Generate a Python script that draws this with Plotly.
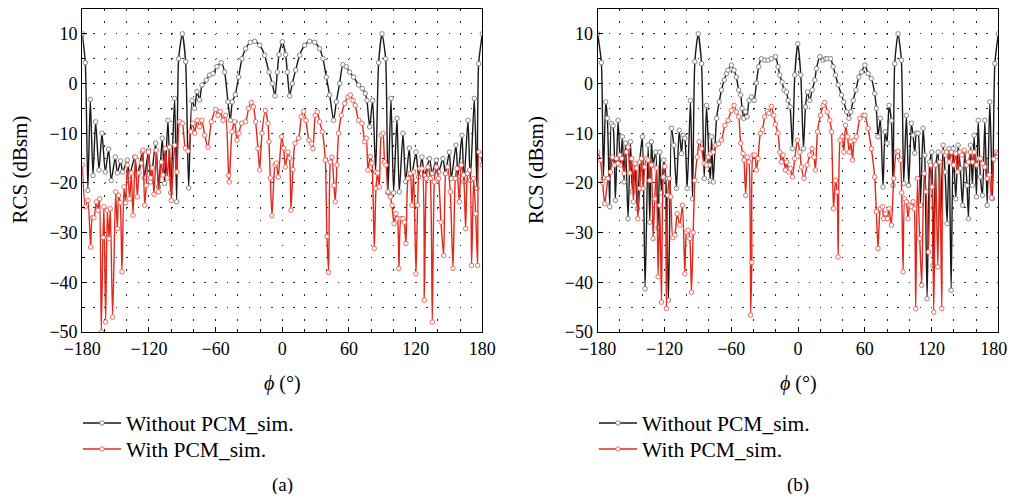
import plotly.graph_objects as go

# ---- panel (a): vertices (phi in deg, RCS in dBsm) ----
phi_a_without = [-180, -177.3, -175, -172.8, -170.4, -168, -165, -162.3, -159.3, -156.3, -154, -150.3, -148.5,
                 -145.5, -143.7, -139.5, -137.4, -132.9, -130.5, -126, -124.2, -120.3, -118.5, -114, -111.3, -108,
                 -105.9, -102.9, -100.5, -96.9, -95.1, -93.3, -90, -87, -84.3, -81.3, -78.9, -76.8, -74.4, -72.3,
                 -68.4, -65.4, -62.4, -58.8, -54.9, -51.9, -48.9, -46.8, -45, -42.3, -39.3, -36.3, -33, -28.8,
                 -24.9, -20.4, -15.9, -12, -9, -6.6, -4.5, -3, 0, 3, 4.5, 6.6, 9, 12, 15.6, 20.1, 24.6, 29.1, 33.6,
                 36.6, 39.6, 42.6, 46.2, 48.6, 51.6, 54.6, 57.6, 60.6, 64.2, 68.7, 72, 74.7, 76.2, 78.6, 81.3, 84,
                 86.7, 89.7, 93, 95.1, 97.8, 100.2, 103.2, 105.3, 108.6, 111, 114.3, 116.1, 120.3, 122.7, 125.7,
                 127.8, 132.6, 134.7, 138.6, 140.7, 144.6, 146.7, 150.3, 152.1, 156.3, 158.1, 161.7, 163.5, 167.1,
                 169.2, 172.8, 175.2, 176.7, 180]
rcs_a_without = [10, 4.2, -21.5, -3.2, -18.5, -7.7, -17.4, -10, -17.8, -13.2, -19.5, -14.8, -18, -15.6, -17.8,
                 -15.4, -18.5, -14.8, -18.5, -13.8, -19, -13.4, -19.8, -12, -20.8, -11, -20.1, -7.4, -22, -3, -23.8,
                 5, 10, 4.4, -21, -3.4, -5, -1.6, -3.3, -0.3, 0.7, 1.7, 2, 3.4, 4.2, 2.3, -3.7, -7.4, -3.7, -2.2,
                 1.3, 5, 7, 8.3, 8.5, 7.7, 5.7, 2.3, 0, -2.5, 2.3, 5.8, 8.4, 5.8, 2.3, -2.5, 0, 2.7, 5.7, 7.7, 8.5,
                 8.3, 7, 5, 1.3, -2.3, -7.4, -3.7, 0, 3.8, 3.4, 2.3, 1.3, -0.3, -1, -2, -3.4, -8.7, -3.4, -17.8, 4.2,
                 10, 5, -22, -3, -22, -7, -21.8, -10, -19.7, -13, -19, -13.8, -18.8, -14.8, -18.5, -15.1, -18.1,
                 -15.4, -17.8, -15.1, -18.1, -13.8, -19.1, -12.4, -18.8, -10.4, -19.8, -7.4, -19.5, -3, -21.1, 4, 10]

phi_a_with = [-180, -177.3, -175, -172.5, -171, -169.5, -167.4, -165.9, -164.4, -162.9, -161.4, -160.5, -159,
              -157.5, -156, -154.8, -152.7, -150, -148.5, -147.3, -145.8, -144.3, -142.5, -141, -139.5, -137.4,
              -135.9, -134.4, -132.3, -130.5, -129, -127, -125.4, -123.9, -122.4, -120.3, -118.5, -117, -115.5,
              -113.4, -111.3, -108.9, -107.4, -105.3, -103.5, -101.4, -99.9, -96.9, -94.8, -92.4, -90, -87.3,
              -84.9, -82.5, -80.4, -78.9, -76.5, -74.4, -72.3, -69.9, -66.9, -63.9, -60, -57.9, -55.8, -53.4, -51,
              -48.3, -47.7, -45.3, -42.9, -40.8, -39, -36.6, -33, -30.3, -27.9, -26, -24, -21.9, -20.4, -18.3,
              -15.3, -12.9, -12, -10.8, -9.3, -6.6, -5.4, -3.6, -0.6, 1.2, 2.7, 5.1, 6.6, 7.8, 9.6, 11.4, 14.7,
              17.1, 19.2, 21.3, 24, 26.4, 27.6, 29.7, 31.5, 33.6, 36, 38.7, 40.2, 41.7, 43.2, 44.7, 46.5, 47.7,
              49.2, 50.7, 53.1, 56.1, 59.1, 61.2, 63.6, 65.7, 68.7, 71.7, 74.1, 75.6, 77.1, 79.2, 80.7, 82.8, 84.3,
              85.8, 87.3, 89.1, 90.6, 92.1, 93.3, 95.1, 97.2, 98.7, 100.5, 102.3, 103.8, 105, 106.8, 108.6, 109.8,
              111.3, 113.1, 115.2, 116.7, 118.2, 120.3, 121.8, 123.6, 125.7, 127.8, 129.6, 131.1, 133.2, 135,
              136.8, 138.6, 140.7, 142.8, 145.2, 147, 148.8, 151.2, 153.6, 155.7, 157.2, 159.3, 161.1, 163.2, 165,
              166.8, 168.6, 170.4, 172.2, 174, 175.8, 177, 178.5, 180]
rcs_a_with = [-16.4, -24.8, -23.5, -32.9, -27, -27, -23.8, -25.5, -23.2, -50, -31, -24.8, -48, -25.5, -31.2, -25.2,
              -47, -21.8, -29.2, -22.5, -24, -37.9, -20.8, -24, -16.4, -23.2, -18, -26.5, -14.8, -22.8, -18, -16,
              -13.4, -24.5, -20.5, -13.8, -19, -17, -22.3, -13.4, -21.8, -15.8, -18.4, -13.1, -19, -12.8, -23.5,
              -12.4, -17.8, -7.7, -8, -13, -13.6, -9.7, -8, -10, -7.4, -8.7, -7.4, -10.4, -12.8, -7.7, -5.2, -6.4,
              -5.6, -7.4, -6.4, -18.5, -19.8, -9.7, -7.7, -11.4, -10, -8, -7.7, -5, -3.8, -4.7, -7.7, -13.1, -17.4,
              -10, -5.4, -8, -11.7, -19, -26.6, -16.4, -16, -18.8, -10.7, -13, -16.8, -13.8, -15, -25.5, -17.3, -12,
              -11, -6.7, -5.6, -7.4, -11.4, -12.1, -13.1, -6.4, -5.7, -7.7, -9.7, -15.4, -30.8, -38, -15.8, -14.8,
              -20.5, -23.8, -16.4, -10, -6.4, -4, -2.7, -2.3, -3.4, -4.4, -7.4, -8, -11.7, -11, -17.4, -14.7, -16,
              -33.2, -21.1, -18, -20.8, -10.4, -10, -15.8, -16.4, -21.8, -22.8, -24.5, -28.2, -26.2, -27.2, -37.2,
              -27.2, -27.2, -27.9, -32.2, -19.1, -18.1, -24.5, -17.8, -38.3, -24.5, -17.1, -17.1, -43.6, -19.1,
              -16.8, -19.1, -48, -19.8, -16.8, -19.1, -27.9, -34.6, -18.1, -16.8, -21.8, -37.2, -19.1, -17.1, -23.8,
              -16.4, -18.4, -29.2, -18.1, -17.4, -36.6, -19.1, -26.2, -36.6, -13.8, -14.4, -16.4]

# ---- panel (b) ----
phi_b_without = [-180, -176.7, -174.9, -172.8, -171.3, -169.2, -167.7, -166.2, -164.1, -161.7, -159.6, -157.8,
                 -156.3, -155, -152.7, -150.6, -148.8, -146.7, -144.3, -142.2, -139.8, -137.4, -134.7, -133.2,
                 -131.7, -130.2, -127.8, -125.7, -124.2, -122.7, -120.6, -118.8, -116.4, -113.7, -111.6, -109.2,
                 -106.8, -104.7, -103.2, -101.7, -99.6, -96.6, -94.8, -92.7, -89.7, -86.7, -84.3, -82.2, -79.8,
                 -78.7, -77.7, -76.2, -73.2, -70.8, -68.7, -66.3, -64.2, -62.9, -59.9, -57.5, -55.4, -53.3, -51.5,
                 -50.3, -48.8, -47.3, -45.8, -44, -41.9, -39.5, -37.4, -35.3, -32.9, -29.9, -26.9, -23.9, -20.3,
                 -17.9, -16.4, -14.3, -12.5, -10.4, -8.9, -7.1, -5, -2.9, -0.2, 2.5, 4.9, 6.7, 8.5, 10.6, 12.7, 15.1,
                 16.6, 19.6, 22.6, 24.6, 26.2, 29.2, 31.6, 33.7, 36.1, 39.1, 41.2, 43.6, 45.7, 47.5, 49.6, 52, 54.7,
                 57.1, 60.1, 62.9, 65.9, 68.9, 70.4, 71.9, 74, 76.4, 78.2, 80, 81.8, 83.9, 85.4, 86.9, 89.9, 92.9, 95,
                 97.4, 99.5, 101.9, 103.4, 104.9, 106.4, 107.9, 110, 112.4, 113.9, 116, 118.4, 120.2, 121.4, 123.8,
                 125.9, 128, 130.4, 132.2, 134, 135.8, 137.6, 139.4, 141.8, 143.9, 145.9, 147.8, 149.9, 151.9, 153.2,
                 155, 156.8, 158.3, 160.4, 161.9, 163.9, 165.8, 167.9, 170, 172.4, 174.8, 176.9, 180]
rcs_b_without = [10, 4.2, -19, -3.7, -7, -24.8, -8, -8.5, -23.5, -7.4, -16.4, -10.7, -19.8, -12, -27.2, -11.7,
                 -21.8, -16.4, -25.2, -15.8, -10.7, -41.3, -12.4, -27.9, -11.7, -16.4, -13.8, -29, -13.8, -22, -15.4,
                 -19.1, -43.6, -9, -12.4, -21.1, -9.4, -14.1, -10.4, -11, -21.1, -3.4, -23.2, 4.4, 10, 4, -19.1, -4.4,
                 -16.4, -19.5, -10.7, -19.8, -7, -3.7, -1.3, 0.7, 2, 2.7, 3.7, 2.7, 1.3, -1.3, -2.3, -5, -7, -5.7,
                 -6.7, -3.4, -2.7, -3.4, 0.1, 3.4, 5, 4.7, 4.7, 5, 5.4, 3.4, 1.7, 0.3, -1.3, -1.7, -3.4, -4.7, -13.1,
                 1.7, 8, 1.7, -13.1, -4.7, -1.7, -3.4, -1.3, 0.7, 3, 5.4, 4.7, 5, 5, 5, 3.4, 1.7, -0.3, -2.3, -3.7,
                 -5.7, -7, -5.7, -3.4, -1.3, 1.3, 2.3, 3.7, 2, 1, -2, -5, -10.7, -7, -20.8, -9.7, -12, -4.4, -7.5,
                 -20.5, 4, 10, 4.7, -20.1, -6.4, -20.5, -8, -10.4, -14, -10, -10, -24.5, -9, -14.4, -43.3, -15.8,
                 -13.8, -36.6, -16.4, -13.8, -27.9, -12.4, -17.8, -28.2, -13.1, -41.6, -13.1, -23.2, -12.4, -17.1,
                 -24.5, -13.8, -20.5, -27.2, -12.4, -20.5, -10.4, -22.8, -7.4, -18.8, -22.5, -7.4, -24.5, -3.7, -23.2,
                 4, 10]

phi_b_with = [-180, -177.6, -175.5, -173.7, -170.7, -168.6, -166.8, -165, -163.2, -161.7, -160.2, -158.4, -156.3,
              -154.2, -152.7, -151.2, -149.4, -147.9, -146.4, -145.2, -144, -142.2, -140.7, -139.2, -137.7, -136.2,
              -134.7, -133.2, -131.7, -130.2, -128.7, -127.2, -125.7, -124.2, -122.7, -121.2, -119.7, -118.2, -117,
              -115.8, -114.3, -112.5, -110.7, -108.6, -106.2, -103.8, -101.7, -100.2, -98.7, -97.2, -95.7, -94.2,
              -92.7, -90.6, -88.8, -86.7, -84.3, -82.2, -80.7, -78.6, -76.2, -73.8, -71.4, -68.7, -65.7, -62.9,
              -59.9, -57.5, -55.4, -53.3, -51.5, -49.4, -48.5, -47, -45.5, -44, -42.5, -41.5, -40.4, -38.9, -37.4,
              -35.9, -33.8, -32, -29.9, -27.5, -26, -23.9, -21.8, -20.3, -17.9, -16.4, -14.9, -13.4, -11.3, -10.1,
              -8.3, -6.8, -5, -2.9, -0.5, 1.6, 3.1, 5.5, 8.2, 10.6, 12.7, 14.5, 15.7, 17.5, 20.2, 22.6, 24.1, 26.2,
              28.6, 30.1, 31.9, 33.7, 35.2, 36.1, 37.9, 39.7, 41.2, 42.7, 44.5, 46, 47.5, 49, 50.5, 52.6, 55.6,
              58.6, 60.1, 62.9, 65.9, 68.9, 70.4, 71.9, 74, 75.8, 77, 78.8, 80.3, 81.8, 83.9, 86, 88.4, 89.9, 92,
              93.2, 94.4, 95.9, 97.4, 98.9, 100.4, 101.9, 103.4, 104.6, 105.8, 107.3, 109.4, 111.2, 113.3, 115.1,
              117.2, 119, 120.5, 122, 123.8, 125.6, 127.4, 129.2, 131, 132.5, 133.4, 135.8, 137.9, 140, 141.8,
              143.6, 145.4, 147.2, 149.3, 151.4, 153.2, 155, 156.8, 158.3, 160.4, 162.2, 164, 165.8, 167.9, 170,
              171.8, 173.9, 176, 178.4, 180]
rcs_b_with = [-13.8, -15.4, -20, -24.2, -19.1, -17.8, -14.8, -16.4, -15.1, -16.1, -14.4, -15.1, -18.1, -13.8,
              -12.8, -18, -15.1, -23.8, -16.1, -17, -27.2, -21.1, -15.1, -21.1, -16.8, -15.1, -15.4, -19.5, -16.4,
              -31.2, -23.2, -17, -38.9, -24.5, -44, -18.8, -16.7, -45.3, -22.5, -19.1, -22.8, -31, -30.5, -26.2,
              -28.5, -24.5, -38.3, -29.9, -29.5, -31.2, -42, -30, -19.5, -14.8, -11.7, -13.1, -16.1, -16.4, -14.8,
              -14.1, -13.8, -12.4, -12.1, -11.4, -8.4, -7.4, -5.4, -4.4, -5.7, -6.7, -12, -14.1, -15.4, -22.5,
              -14.8, -15.8, -46.6, -36, -14.4, -14.4, -17.4, -15.1, -10, -9.3, -6.7, -5.6, -6, -4.6, -6.4, -8.2,
              -10, -13.8, -15.8, -14.4, -17.4, -15.8, -17.8, -17.1, -18.8, -15.1, -11.4, -13.8, -16.8, -19.1, -16.4,
              -14.4, -13.1, -14.8, -17.4, -9.7, -6.4, -4.4, -3.8, -5.7, -7.4, -9.7, -25.2, -19.5, -21.8, -34.9,
              -11.4, -10.7, -13.8, -8.4, -10.7, -13.8, -11.7, -15.4, -11.4, -10.7, -7, -6.4, -6.4, -9, -13.1, -18.8,
              -25.8, -33.2, -25.2, -24.8, -27.2, -26.2, -27.2, -25.2, -28.5, -19.1, -13.8, -13.6, -15.4, -22, -37.9,
              -23.2, -23.8, -27.2, -24.5, -24.8, -23.8, -25.2, -45.3, -19.1, -31.2, -40.6, -18.1, -21.8, -33.9,
              -16.4, -20.8, -46, -16.4, -36.9, -15.8, -45.3, -13.8, -14.4, -13.8, -15.8, -13.8, -16.4, -14.1, -17.8,
              -13.8, -14.4, -13.4, -16.4, -15.8, -13.8, -15.8, -13.8, -16.4, -15.1, -15.1, -16.1, -16.8, -19.1,
              -18.4, -23, -15.2, -13.8, -14.1]

x_ticks = [-180, -120, -60, 0, 60, 120, 180]
x_ticktext = ["\u2212180", "\u2212120", "\u221260", "0", "60", "120", "180"]
# right panel: pad the last label so it is not cut by the window edge
x_ticktext_b = x_ticktext[:-1] + ["180\u00a0\u00a0"]
y_ticks = [-50, -40, -30, -20, -10, 0, 10]
y_ticktext = ["\u221250", "\u221240", "\u221230", "\u221220", "\u221210", "0", "10"]

SERIF = "Liberation Serif, Times New Roman, serif"
BLACK = "rgb(25,25,25)"
RED = "rgb(226,40,28)"
# the page body has an 8px margin, so the figure is drawn 8px in from the top-left;
# keep the page no taller than the window so no scrollbar appears
OFF = 8
W, H = 1017 - OFF, 504 - 2 * OFF - 2
def px(x):
    return (x - OFF) / W
def py(y):
    return 1 - (y - OFF) / H

def series(x, y, name, color, mk, xa, ya, leg):
    return go.Scatter(x=x, y=y, name=name, mode="lines+markers", xaxis=xa, yaxis=ya, legend=leg,
                      line=dict(color=color, width=1.4, shape="spline", smoothing=0.6),
                      marker=dict(symbol="circle", size=4.5, color="white", line=dict(color=mk, width=0.9)))

fig = go.Figure()
fig.add_trace(series(phi_a_without, rcs_a_without, "Without PCM_sim.", BLACK, "rgb(120,120,120)", "x", "y", "legend"))
fig.add_trace(series(phi_a_with, rcs_a_with, "With PCM_sim.", RED, "rgb(230,90,80)", "x", "y", "legend2"))
fig.add_trace(series(phi_b_without, rcs_b_without, "Without PCM_sim.", BLACK, "rgb(120,120,120)", "x2", "y2", "legend3"))
fig.add_trace(series(phi_b_with, rcs_b_with, "With PCM_sim.", RED, "rgb(230,90,80)", "x2", "y2", "legend4"))

grid = dict(showgrid=True, gridcolor="rgb(40,40,40)", gridwidth=1.3)
def xax(dom, anchor, labels):
    return dict(domain=dom, anchor=anchor, range=[-180, 180], tickvals=x_ticks, ticktext=labels,
                automargin=False, ticklabeloverflow="allow", ticks="inside", ticklen=5, tickcolor="black",
                showline=True, linecolor="black", linewidth=1.2, mirror=True, zeroline=False,
                griddash="1.5px,10.9px", **grid,
                minor=dict(dtick=20, tick0=0, ticks="inside", ticklen=3, tickcolor="black", showgrid=True,
                           gridcolor="rgb(40,40,40)", gridwidth=1.3, griddash="1.5px,10.9px"),
                tickfont=dict(family=SERIF, size=18, color="black"))
def yax(dom, anchor):
    return dict(domain=dom, anchor=anchor, range=[-50, 15], tickvals=y_ticks, ticktext=y_ticktext,
                automargin=False, ticks="inside", ticklen=5, tickcolor="black", showline=True, linecolor="black",
                linewidth=1.2, mirror=True, zeroline=False, griddash="1.5px,9.6px", **grid,
                minor=dict(dtick=5, tick0=0, ticks="inside", ticklen=3, tickcolor="black", showgrid=True,
                           gridcolor="rgb(40,40,40)", gridwidth=1.3, griddash="1.5px,9.6px"),
                tickfont=dict(family=SERIF, size=18, color="black"))

def leg(x, y):
    return dict(x=px(x), y=py(y), xanchor="left", yanchor="middle", bgcolor="rgba(0,0,0,0)", itemwidth=38,
                font=dict(family=SERIF, size=21.5, color="black"))

ydom = [py(332), py(9)]
fig.update_layout(
    width=W, height=H, margin=dict(l=0, r=0, t=0, b=0, autoexpand=False),
    paper_bgcolor="white", plot_bgcolor="white",
    font=dict(family=SERIF, color="black"),
    xaxis=xax([px(82.3), px(482.3)], "y", x_ticktext), yaxis=yax(ydom, "x"),
    xaxis2=xax([px(597.7), px(998.3)], "y2", x_ticktext_b), yaxis2=yax(ydom, "x2"),
    legend=leg(78, 423), legend2=leg(78, 449), legend3=leg(594, 423), legend4=leg(594, 449),
    showlegend=True,
)

ann = []
for cx, yt_x, lab in [(282.3, 19.5, "(a)"), (798, 536, "(b)")]:
    ann.append(dict(x=px(yt_x), y=py(170), xref="paper", yref="paper", text="RCS (dBsm)", textangle=-90,
                    xanchor="center", yanchor="middle", showarrow=False,
                    font=dict(family=SERIF, size=21, color="black")))
    ann.append(dict(x=px(cx), y=py(383), xref="paper", yref="paper", text="<i>\u03d5</i> (\u00b0)",
                    xanchor="center", yanchor="middle", showarrow=False,
                    font=dict(family=SERIF, size=20, color="black")))
    ann.append(dict(x=px(cx), y=py(485), xref="paper", yref="paper", text=lab,
                    xanchor="center", yanchor="middle", showarrow=False,
                    font=dict(family=SERIF, size=19, color="black")))
fig.update_layout(annotations=ann)

fig.write_html("out.html")
